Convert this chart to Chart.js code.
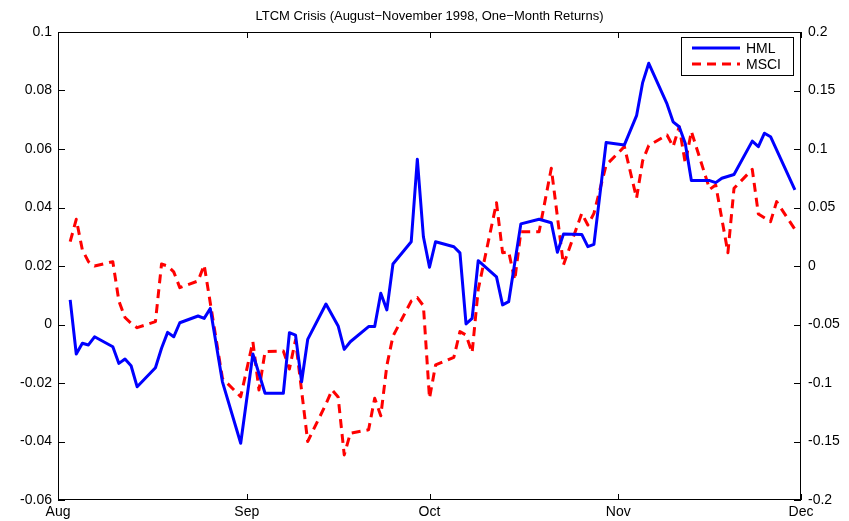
<!DOCTYPE html>
<html>
<head>
<meta charset="utf-8">
<script src="https://cdn.jsdelivr.net/npm/chart.js@4.4.0/dist/chart.umd.min.js"></script>
<style>
  html, body { margin: 0; padding: 0; background: #fff; }
</style>
</head>
<body>
<canvas id="ltcmChart" width="849" height="521"></canvas>
<script>
// x values are days since 1 Aug 1998
const monthTicks = [0, 31, 61, 92, 122];
const monthLabels = ['Aug', 'Sep', 'Oct', 'Nov', 'Dec'];
const leftTicks = [-0.06, -0.04, -0.02, 0, 0.02, 0.04, 0.06, 0.08, 0.1];
const rightTicks = [-0.2, -0.15, -0.1, -0.05, 0, 0.05, 0.1, 0.15, 0.2];

const hmlDays = [2, 3, 4, 5, 6, 9, 10, 11, 12, 13, 16, 17, 18, 19, 20, 23, 24, 25, 27, 30,
  32, 34, 37, 38, 39, 40, 41, 44, 46, 47, 48, 51, 52, 53, 54, 55, 58, 59, 60, 61,
  62, 65, 66, 67, 68, 69, 72, 73, 74, 76, 79, 81, 82, 83, 86, 87, 88, 90, 93, 95,
  96, 97, 100, 101, 102, 103, 104, 107, 108, 109, 111, 114, 115, 116, 117, 121];
const hmlValues = [0.0084, -0.0101, -0.0064, -0.0070, -0.0042, -0.0076, -0.0133, -0.0118, -0.0141, -0.0213,
  -0.0148, -0.0081, -0.0027, -0.0042, 0.0006, 0.0029, 0.0021, 0.0055, -0.0196, -0.0406,
  -0.0101, -0.0235, -0.0235, -0.0028, -0.0036, -0.0196, -0.0051, 0.0070, -0.0005, -0.0085,
  -0.0059, -0.0007, -0.0007, 0.0107, 0.0050, 0.0207, 0.0283, 0.0565, 0.0300, 0.0196,
  0.0283, 0.0266, 0.0245, 0.0002, 0.0021, 0.0218, 0.0163, 0.0067, 0.0078, 0.0344,
  0.0360, 0.0348, 0.0247, 0.0309, 0.0308, 0.0266, 0.0274, 0.0622, 0.0614, 0.0714,
  0.0827, 0.0893, 0.0754, 0.0693, 0.0676, 0.0619, 0.0492, 0.0492, 0.0485, 0.0500,
  0.0513, 0.0627, 0.0608, 0.0654, 0.0642, 0.0460];

const msciDays = [2, 3, 4, 5, 6, 9, 10, 11, 12, 13, 16, 17, 18, 19, 20, 23, 24, 27, 30, 32,
  33, 34, 37, 38, 39, 41, 44, 45, 46, 47, 48, 51, 52, 53, 54, 55, 58, 59, 60, 61,
  62, 65, 66, 67, 68, 69, 72, 73, 74, 75, 76, 79, 81, 83, 86, 87, 88, 90, 93, 95,
  96, 97, 100, 101, 102, 103, 104, 107, 108, 110, 111, 114, 115, 117, 118, 121];
const msciValues = [0.0208, 0.0399, 0.0137, 0.0037, 0.0, 0.0037, -0.030, -0.044, -0.049, -0.0527,
  -0.0476, 0.0017, 0.0, -0.005, -0.0185, -0.0128, 0.0009, -0.096, -0.1117, -0.0647,
  -0.106, -0.0732, -0.0726, -0.088, -0.0632, -0.150, -0.118, -0.106, -0.112, -0.1615,
  -0.143, -0.140, -0.113, -0.128, -0.085, -0.06, -0.030, -0.027, -0.034, -0.113,
  -0.0846, -0.078, -0.0561, -0.059, -0.074, -0.02, 0.0541, 0.0114, 0.0122, -0.012,
  0.0293, 0.0293, 0.0835, 0.0009, 0.045, 0.035, 0.045, 0.0863, 0.102, 0.058,
  0.09, 0.103, 0.112, 0.102, 0.119, 0.0878, 0.115, 0.0655, 0.0692, 0.0114,
  0.0664, 0.0826, 0.0444, 0.0379, 0.055, 0.0314];

const FONT = 'Liberation Sans, Arial, Helvetica, sans-serif';

// matlab style box with inward ticks
const framePlugin = {
  id: 'frame',
  afterDatasetsDraw(chart) {
    const { ctx, chartArea: a, scales } = chart;
    ctx.save();
    ctx.strokeStyle = '#000';
    ctx.lineWidth = 1;
    ctx.beginPath();
    scales.x.ticks.forEach(t => {
      const px = Math.round(scales.x.getPixelForValue(t.value)) + 0.5;
      ctx.moveTo(px, a.bottom); ctx.lineTo(px, a.bottom - 6);
      ctx.moveTo(px, a.top); ctx.lineTo(px, a.top + 6);
    });
    scales.y.ticks.forEach(t => {
      const py = Math.round(scales.y.getPixelForValue(t.value)) + 0.5;
      ctx.moveTo(a.left, py); ctx.lineTo(a.left + 7, py);
    });
    scales.y2.ticks.forEach(t => {
      const py = Math.round(scales.y2.getPixelForValue(t.value)) + 0.5;
      ctx.moveTo(a.right, py); ctx.lineTo(a.right - 7, py);
    });
    ctx.stroke();
    ctx.strokeRect(a.left + 0.5, a.top + 0.5, a.right - a.left - 1, a.bottom - a.top - 1);
    ctx.restore();
  }
};

// boxed legend in the top right corner
const boxLegend = {
  id: 'boxLegend',
  afterDraw(chart) {
    const { ctx, chartArea: a } = chart;
    const x0 = a.right - 120, y0 = a.top + 5, w = 112, h = 38;
    ctx.save();
    ctx.fillStyle = '#fff';
    ctx.fillRect(x0, y0, w, h);
    ctx.strokeStyle = '#000';
    ctx.lineWidth = 1;
    ctx.strokeRect(x0 + 0.5, y0 + 0.5, w, h);
    ctx.font = '14px ' + FONT;
    ctx.textBaseline = 'middle';
    chart.data.datasets.forEach((ds, i) => {
      const ly = y0 + 11 + i * 16;
      ctx.beginPath();
      ctx.strokeStyle = ds.borderColor;
      ctx.lineWidth = ds.borderWidth;
      ctx.setLineDash(ds.borderDash || []);
      ctx.moveTo(x0 + 11, ly);
      ctx.lineTo(x0 + 59, ly);
      ctx.stroke();
      ctx.setLineDash([]);
      ctx.fillStyle = '#000';
      ctx.fillText(ds.label, x0 + 65, ly + 1);
    });
    ctx.restore();
  }
};

const ctx = document.getElementById('ltcmChart').getContext('2d');
new Chart(ctx, {
  type: 'line',
  data: {
    datasets: [
      {
        label: 'HML',
        data: hmlDays.map((d, i) => ({ x: d, y: hmlValues[i] })),
        yAxisID: 'y',
        borderColor: '#0000ff',
        borderWidth: 3,
        borderJoinStyle: 'round',
        pointRadius: 0,
        tension: 0,
        fill: false
      },
      {
        label: 'MSCI',
        data: msciDays.map((d, i) => ({ x: d, y: msciValues[i] })),
        yAxisID: 'y2',
        borderColor: '#ff0000',
        borderWidth: 3,
        borderDash: [9, 6],
        borderJoinStyle: 'round',
        pointRadius: 0,
        tension: 0,
        fill: false
      }
    ]
  },
  options: {
    responsive: false,
    devicePixelRatio: 1,
    animation: false,
    layout: { padding: 0 },
    scales: {
      x: {
        type: 'linear',
        min: 0,
        max: 122,
        afterBuildTicks(scale) { scale.ticks = monthTicks.map(v => ({ value: v })); },
        afterFit(scale) { scale.height = 21; },
        grid: { display: false, drawTicks: false },
        border: { display: false },
        ticks: {
          autoSkip: false,
          maxRotation: 0,
          padding: 4,
          color: '#000',
          font: { family: FONT, size: 14 },
          callback: (v, i) => monthLabels[i]
        }
      },
      y: {
        position: 'left',
        min: -0.06,
        max: 0.1,
        afterBuildTicks(scale) { scale.ticks = leftTicks.map(v => ({ value: v })); },
        afterFit(scale) { scale.width = 58; },
        grid: { display: false, drawTicks: false },
        border: { display: false },
        ticks: {
          padding: 6,
          color: '#000',
          font: { family: FONT, size: 14 },
          callback: v => String(+v.toFixed(2))
        }
      },
      y2: {
        position: 'right',
        min: -0.2,
        max: 0.2,
        afterBuildTicks(scale) { scale.ticks = rightTicks.map(v => ({ value: v })); },
        afterFit(scale) { scale.width = 48; },
        grid: { display: false, drawTicks: false },
        border: { display: false },
        ticks: {
          padding: 7,
          color: '#000',
          font: { family: FONT, size: 14 },
          callback: v => String(+v.toFixed(2))
        }
      }
    },
    plugins: {
      legend: { display: false },
      tooltip: { enabled: false },
      title: {
        display: true,
        fullSize: false,
        text: 'LTCM Crisis (August\u2212November 1998, One\u2212Month Returns)',
        color: '#000',
        font: { family: FONT, size: 13, weight: 'normal', lineHeight: 1.2 },
        padding: { top: 9, bottom: 7.4 }
      }
    }
  },
  plugins: [framePlugin, boxLegend]
});
</script>
</body>
</html>
